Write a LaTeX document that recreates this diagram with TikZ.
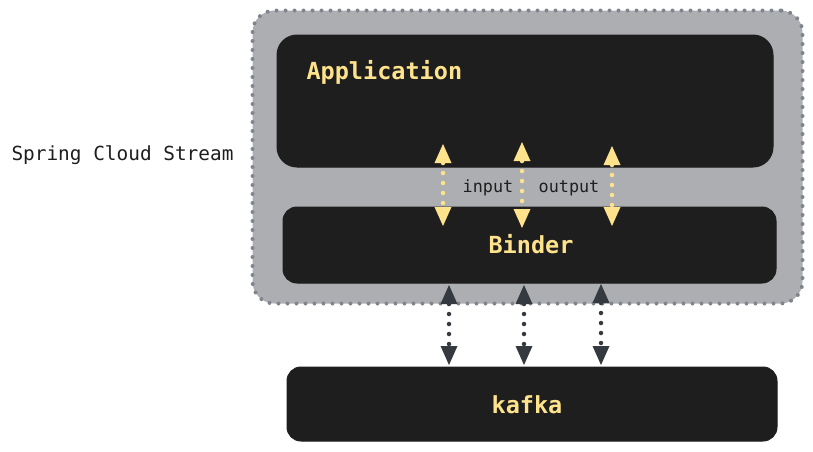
\documentclass[tikz,border=0pt]{standalone}
\usepackage{fontspec}
\setmonofont{DejaVu Sans Mono}
\usetikzlibrary{arrows.meta}
\definecolor{boxfill}{HTML}{1E1E1E}
\definecolor{contfill}{HTML}{ADAEB2}
\definecolor{contedge}{HTML}{7E858C}
\definecolor{yell}{HTML}{FFE38C}
\definecolor{darkarrow}{HTML}{343A40}
\definecolor{labelgray}{HTML}{1E1E1E}
\begin{document}
\begin{tikzpicture}[x=1pt,y=-1pt,
  blackbox/.style={draw=boxfill,fill=boxfill,rounded corners=20pt,line width=1pt},
  boxlabel/.style={text=yell,font=\ttfamily\bfseries\fontsize{23.5}{28}\selectfont},
  smalllabel/.style={text=labelgray,font=\ttfamily\fontsize{16.8}{20}\selectfont},
  yarrow/.style={draw=yell,line width=4.5pt,line cap=round,dash pattern=on 0pt off 10pt,
     {Triangle[length=19pt,width=17pt,fill=yell,line width=0pt]}-{Triangle[length=19pt,width=17pt,fill=yell,line width=0pt]}},
  darrow/.style={draw=darkarrow,line width=4.5pt,line cap=round,dash pattern=on 0pt off 10pt,
     {Triangle[length=19pt,width=17pt,fill=darkarrow,line width=0pt]}-{Triangle[length=19pt,width=17pt,fill=darkarrow,line width=0pt]}}
]
\useasboundingbox (0,0) rectangle (813,451);
% container
\node[draw=contedge,fill=contfill,line width=4pt,dash pattern=on 0pt off 9pt,line cap=round,
  rounded corners=22pt,minimum width=550pt,minimum height=293pt,inner sep=0pt] (cont) at (527.5,157) {};
\node[blackbox,minimum width=496pt,minimum height=132pt,inner sep=0pt] (app) at (525,101) {};
\node[blackbox,minimum width=493pt,minimum height=76pt,inner sep=0pt,rounded corners=14pt] (binder) at (529.5,245) {};
\node[blackbox,minimum width=490pt,minimum height=74pt,inner sep=0pt,rounded corners=14pt] (kafka) at (532,404) {};
\node[boxlabel,anchor=west] (applabel) at (303,72) {Application};
\node[boxlabel] (binderlabel) at (531,244) {Binder};
\node[boxlabel] (kafkalabel) at (527,405) {kafka};
\node[smalllabel] (input) at (488,188) {input};
\node[smalllabel] (output) at (569,188) {output};
\node[text=labelgray,font=\ttfamily\fontsize{19.4}{23}\selectfont,anchor=west] (scs) at (8,155) {Spring Cloud Stream};
% arrow end points
\coordinate (a1) at (443,144); \coordinate (b1) at (443,226);
\coordinate (a2) at (522,142); \coordinate (b2) at (522,228);
\coordinate (a3) at (612,146); \coordinate (b3) at (612,226);
\draw[yarrow] (a1) -- (b1);
\draw[yarrow] (a2) -- (b2);
\draw[yarrow] (a3) -- (b3);
\coordinate (c1) at (449,285); \coordinate (d1) at (449,365);
\coordinate (c2) at (524,285); \coordinate (d2) at (524,365);
\coordinate (c3) at (601,284); \coordinate (d3) at (601,365);
\draw[darrow] (c1) -- (d1);
\draw[darrow] (c2) -- (d2);
\draw[darrow] (c3) -- (d3);
\end{tikzpicture}
\end{document}
